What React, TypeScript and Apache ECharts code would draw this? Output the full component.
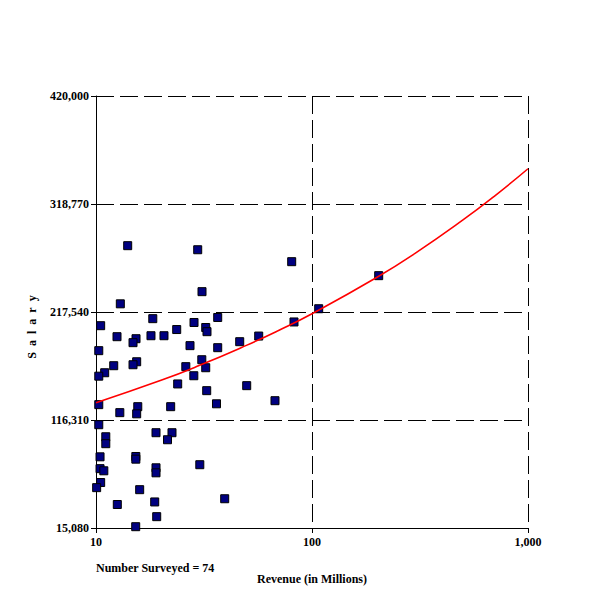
import React, { useEffect, useRef } from "react";
import * as echarts from "echarts";

// Revenue (in millions) of each surveyed company
const revenue = [
  14.02, 29.57, 30.96, 12.96, 18.32, 10.51, 36.6, 28.43, 23.64, 32.21,
  32.65, 12.51, 17.97, 20.64, 15.32, 14.84, 27.24, 36.6, 10.3, 30.89,
  15.43, 14.84, 12.08, 26.05, 32.21, 10.97, 28.37, 10.3, 23.89, 32.55,
  36.13, 10.3, 15.61, 22.17, 12.89, 15.43, 10.3, 11.1, 11.1, 18.96,
  22.48, 21.43, 10.44, 15.29, 15.29, 10.44, 10.87, 18.96, 18.96, 30.24,
  10.51, 10.07, 15.93, 39.43, 12.55, 18.7, 19.1, 15.27, 80.54, 203.6,
  107.4, 82.54, 56.66, 46.27, 49.86, 67.4,
];

// Salary for each company, same order
const salary = [
  279700, 275900, 236600, 225200, 211300, 204700, 212400, 207700, 201100, 203000,
  199100, 194400, 195300, 195300, 192500, 188800, 186000, 184100, 181300, 172800,
  170900, 168100, 167200, 166300, 165300, 160600, 157800, 157400, 150100, 143800,
  131500, 130700, 128800, 128800, 123200, 122100, 111900, 100600, 94100, 104400,
  104400, 97800, 81800, 82100, 79600, 70700, 68700, 71500, 66800, 74400,
  57700, 52900, 51000, 42500, 37100, 39500, 25700, 16300, 264700, 251600,
  220600, 208200, 195000, 189700, 148500, 134400,
];

// Trend line points
const trendRevenue = [10, 20, 30, 50, 70, 100, 200, 300, 500, 700, 1000];
const trendSalary = [132500, 153500, 167300, 186500, 200200, 215900, 250100, 272500, 303800, 326200, 351800];

// Axis ticks
const yTicks = [15080, 116310, 217540, 318770, 420000];

const xName = "Revenue (in Millions)";
const yName = "S\u2002a\u2002l\u2002a\u2002r\u2002y";
const footnote = "Number Surveyed = 74";

export default function App() {
  const ref = useRef<HTMLDivElement>(null);

  useEffect(() => {
    const chart = echarts.init(ref.current!, null, { renderer: "svg" });
    const font = "'Liberation Serif', 'Times New Roman', serif";
    const fmt = (v: number) => Math.round(v).toLocaleString("en-US");
    const txt = { fontFamily: font, fontWeight: "bold" as const, fontSize: 12, color: "#000" };
    const dashed = { color: "#000", width: 1, type: [18, 6] as number[] };

    chart.setOption({
      animation: false,
      backgroundColor: "#ffffff",
      grid: { left: 96, top: 96, width: 432, height: 432, containLabel: false },
      xAxis: {
        type: "log",
        logBase: 10,
        min: 10,
        max: 1000,
        name: xName,
        nameLocation: "middle",
        nameGap: 45,
        nameTextStyle: txt,
        axisLine: { show: true, onZero: false, lineStyle: { color: "#000", width: 1 } },
        axisTick: { show: true, length: 5, lineStyle: { color: "#000", width: 1 } },
        axisLabel: { ...txt, formatter: fmt, margin: 8 },
        splitLine: { show: true, lineStyle: dashed },
        minorTick: { show: false },
        minorSplitLine: { show: false },
      },
      yAxis: {
        type: "value",
        min: 15080,
        max: 420000,
        axisLine: { show: true, onZero: false, lineStyle: { color: "#000", width: 1 } },
        axisTick: { show: true, length: 5, customValues: yTicks, lineStyle: { color: "#000", width: 1 } },
        axisLabel: { ...txt, customValues: yTicks, formatter: fmt, margin: 7 },
        splitLine: { show: true, lineStyle: dashed },
      },
      series: [
        {
          type: "scatter",
          data: revenue.map((r, i) => [r, salary[i]]),
          symbol: "rect",
          symbolSize: 8,
          itemStyle: { color: "#000080", borderColor: "#000000", borderWidth: 1, opacity: 1 },
          z: 2,
        },
        {
          type: "line",
          data: trendRevenue.map((r, i) => [r, trendSalary[i]]),
          smooth: true,
          showSymbol: false,
          symbol: "none",
          lineStyle: { color: "#ff0000", width: 1.6 },
          z: 3,
        },
      ],
      graphic: [
        {
          type: "text",
          x: 32,
          y: 327,
          rotation: Math.PI / 2,
          style: {
            text: yName,
            fontFamily: font,
            fontWeight: "bold",
            fontSize: 12,
            fill: "#000",
            align: "center",
            verticalAlign: "middle",
          },
        },
        {
          type: "text",
          x: 96,
          y: 568,
          style: {
            text: footnote,
            fontFamily: font,
            fontWeight: "bold",
            fontSize: 12,
            fill: "#000",
            align: "left",
            verticalAlign: "middle",
          },
        },
      ],
    });
    return () => chart.dispose();
  }, []);

  return (
    <div
      ref={ref}
      style={{ position: "fixed", left: 0, top: 0, width: 600, height: 600, background: "#fff" }}
    />
  );
}
